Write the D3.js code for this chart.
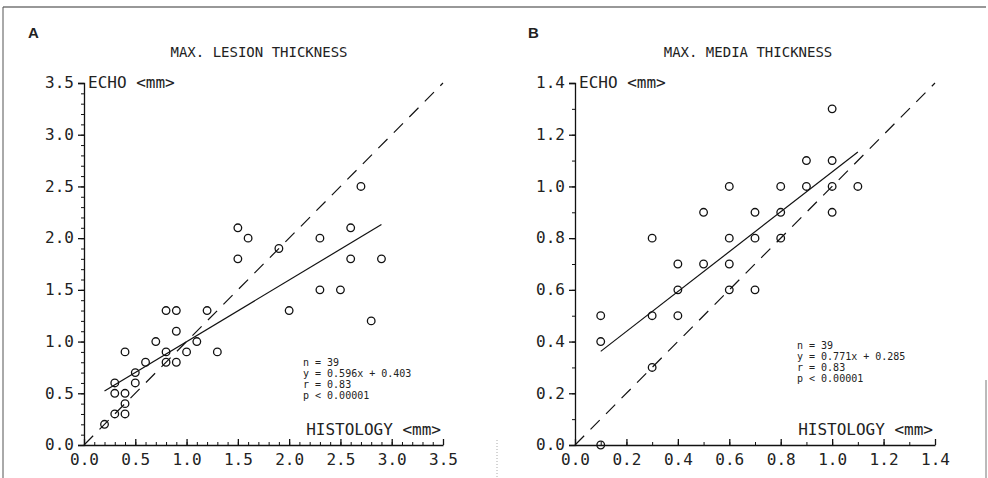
<!DOCTYPE html>
<html>
<head>
<meta charset="utf-8">
<script src="https://cdn.jsdelivr.net/npm/d3@7"></script>
<style>
  body { margin: 0; background: #fff; }
  svg text { fill: #222; }
  .tick-label { font-family: "DejaVu Sans Mono", monospace; font-size: 16px; }
  .title { font-family: "DejaVu Sans Mono", monospace; font-size: 14px; }
  .axis-name { font-family: "DejaVu Sans Mono", monospace; font-size: 16px; }
  .stats { font-family: "DejaVu Sans Mono", monospace; font-size: 10px; }
  .panel-letter { font-family: "Liberation Sans", Arial, sans-serif; font-weight: bold; font-size: 15px; }
</style>
</head>
<body>
<svg id="chart"></svg>
<script>
const width = 988;
const height = 478;

// panel A - max. lesion thickness (histology vs echo, mm)
const lesionHistology = [0.2, 0.3, 0.3, 0.3, 0.4, 0.4, 0.4, 0.4, 0.5, 0.5, 0.6, 0.7, 0.8, 0.8, 0.8,
  0.9, 0.9, 0.9, 1.0, 1.1, 1.2, 1.3, 1.5, 1.5, 1.6, 1.9, 2.0, 2.3, 2.3, 2.5, 2.6, 2.6, 2.7, 2.8, 2.9];
const lesionEcho = [0.2, 0.6, 0.5, 0.3, 0.5, 0.4, 0.3, 0.9, 0.7, 0.6, 0.8, 1.0, 1.3, 0.9, 0.8,
  1.3, 1.1, 0.8, 0.9, 1.0, 1.3, 0.9, 2.1, 1.8, 2.0, 1.9, 1.3, 2.0, 1.5, 1.5, 2.1, 1.8, 2.5, 1.2, 1.8];
const lesionTicks = [0.0, 0.5, 1.0, 1.5, 2.0, 2.5, 3.0, 3.5];
const lesionFit = {slope: 0.596, intercept: 0.403, from: 0.2, to: 2.9};
const lesionStats = ["n = 39", "y = 0.596x + 0.403", "r = 0.83", "p < 0.00001"];

// panel B - max. media thickness
const mediaHistology = [0.1, 0.1, 0.1, 0.3, 0.3, 0.3, 0.4, 0.4, 0.4, 0.5, 0.5, 0.6, 0.6, 0.6,
  0.6, 0.7, 0.7, 0.7, 0.8, 0.8, 0.8, 0.9, 0.9, 1.0, 1.0, 1.0, 1.0, 1.1];
const mediaEcho = [0.0, 0.4, 0.5, 0.3, 0.5, 0.8, 0.5, 0.6, 0.7, 0.7, 0.9, 0.6, 0.7, 0.8,
  1.0, 0.6, 0.8, 0.9, 0.8, 0.9, 1.0, 1.0, 1.1, 0.9, 1.0, 1.1, 1.3, 1.0];
const mediaTicks = [0.0, 0.2, 0.4, 0.6, 0.8, 1.0, 1.2, 1.4];
const mediaFit = {slope: 0.771, intercept: 0.285, from: 0.1, to: 1.1};
const mediaStats = ["n = 39", "y = 0.771x + 0.285", "r = 0.83", "p < 0.00001"];

const svg = d3.select("#chart")
    .attr("width", width)
    .attr("height", height);

// scan border
svg.append("line").attr("x1", 3).attr("x2", 986).attr("y1", 7).attr("y2", 7)
    .attr("stroke", "#333").attr("stroke-width", 1.2);
svg.append("line").attr("x1", 3).attr("x2", 3).attr("y1", 7).attr("y2", height)
    .attr("stroke", "#555").attr("stroke-width", 1);
svg.append("line").attr("x1", 986).attr("x2", 986).attr("y1", 380).attr("y2", height)
    .attr("stroke", "#777").attr("stroke-width", 1);
svg.append("line").attr("x1", 497).attr("x2", 497).attr("y1", 440).attr("y2", height)
    .attr("stroke", "#aaa").attr("stroke-width", 1).attr("stroke-dasharray", "1,2");

const fmt = d3.format(".1f");

const drawPanel = (p) => {
  const x = d3.scaleLinear().domain([0, p.max]).range([p.left, p.left + p.xSize]);
  const y = d3.scaleLinear().domain([0, p.max]).range([p.bottom, p.bottom - p.ySize]);
  const g = svg.append("g");

  g.append("text").attr("class", "panel-letter")
      .attr("x", p.letterX).attr("y", 38).text(p.letter);

  g.append("text").attr("class", "title")
      .attr("x", p.titleX).attr("y", 57).attr("text-anchor", "middle")
      .text(p.title);

  // y axis: major ticks outward, minor ticks at each 0.1
  const yAxis = d3.axisLeft(y).tickValues(p.ticks).tickSize(6).tickFormat(fmt);
  const gy = g.append("g").attr("transform", `translate(${ p.left },0)`).call(yAxis);
  const minor = d3.range(0, p.max + 1e-9, 0.1);
  g.append("g").attr("transform", `translate(${ p.left },0)`)
      .call(d3.axisLeft(y).tickValues(minor).tickSize(3).tickFormat(""))
      .select(".domain").remove();

  // x axis: ticks point up into the plot
  const xAxis = d3.axisBottom(x).tickValues(p.ticks).tickSizeInner(-6).tickSizeOuter(0).tickFormat(fmt);
  const gx = g.append("g").attr("transform", `translate(0,${ p.bottom })`).call(xAxis);
  g.append("g").attr("transform", `translate(0,${ p.bottom })`)
      .call(d3.axisBottom(x).tickValues(minor).tickSizeInner(-3).tickSizeOuter(0).tickFormat(""))
      .select(".domain").remove();

  [gx, gy].forEach((a) => {
    a.selectAll("path, line").attr("stroke", "#111").attr("stroke-width", 1.3);
    a.selectAll("text").attr("class", "tick-label").attr("fill", "#222");
  });
  gx.selectAll("text").attr("y", 9).attr("dy", "0.71em");
  gy.selectAll("text").attr("x", -10).attr("dy", "0.3em");
  g.selectAll("g.tick line").attr("stroke", "#111");

  g.append("text").attr("class", "axis-name")
      .attr("x", p.left + 4).attr("y", y(p.max) + 5).text("ECHO <mm>");
  g.append("text").attr("class", "axis-name")
      .attr("x", p.left + p.xSize - 2).attr("y", p.bottom - 10)
      .attr("text-anchor", "end").text("HISTOLOGY <mm>");

  // line of identity
  g.append("line")
      .attr("x1", x(0)).attr("y1", y(0))
      .attr("x2", x(p.max)).attr("y2", y(p.max))
      .attr("stroke", "#111").attr("stroke-width", 1.2)
      .attr("stroke-dasharray", "13,9");

  // regression line
  g.append("line")
      .attr("x1", x(p.fit.from)).attr("y1", y(p.fit.slope * p.fit.from + p.fit.intercept))
      .attr("x2", x(p.fit.to)).attr("y2", y(p.fit.slope * p.fit.to + p.fit.intercept))
      .attr("stroke", "#111").attr("stroke-width", 1.2);

  const pts = p.xs.map((d, i) => ({h: d, e: p.ys[i]}));
  g.selectAll("circle.pt").data(pts).enter().append("circle")
      .attr("class", "pt")
      .attr("cx", (d) => x(d.h))
      .attr("cy", (d) => y(d.e))
      .attr("r", 3.8)
      .attr("fill", "none")
      .attr("stroke", "#111")
      .attr("stroke-width", 1.3);

  g.append("g").selectAll("text").data(p.stats).enter().append("text")
      .attr("class", "stats")
      .attr("x", p.statsX)
      .attr("y", (d, i) => p.statsY + i * 11)
      .text((d) => d);
};

drawPanel({
  letter: "A", letterX: 28, title: "MAX. LESION THICKNESS", titleX: 259,
  left: 84, bottom: 445, xSize: 359, ySize: 362, max: 3.5,
  ticks: lesionTicks, xs: lesionHistology, ys: lesionEcho,
  fit: lesionFit, stats: lesionStats, statsX: 303, statsY: 366
});

drawPanel({
  letter: "B", letterX: 528, title: "MAX. MEDIA THICKNESS", titleX: 748,
  left: 575, bottom: 445, xSize: 360, ySize: 362, max: 1.4,
  ticks: mediaTicks, xs: mediaHistology, ys: mediaEcho,
  fit: mediaFit, stats: mediaStats, statsX: 797, statsY: 349
});
</script>
</body>
</html>
